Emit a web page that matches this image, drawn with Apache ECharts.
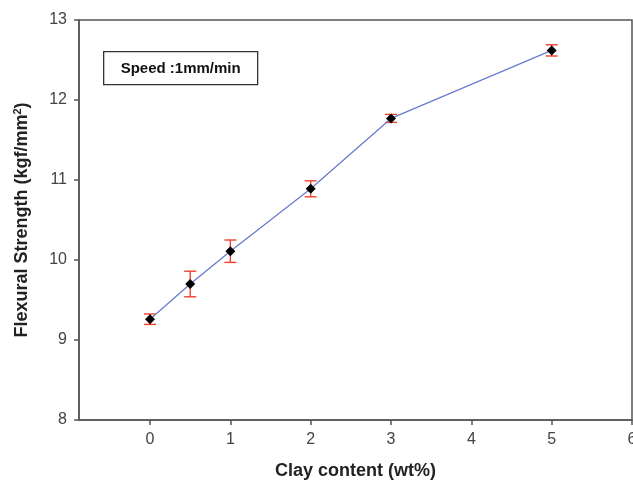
<!DOCTYPE html>
<html>
<head>
<meta charset="utf-8">
<script src="https://cdn.jsdelivr.net/npm/echarts@6/dist/echarts.min.js"></script>
<style>
  html, body { margin: 0; padding: 0; background: #fff; }
  #chart { width: 633px; height: 485px; }
</style>
</head>
<body>
<div id="chart"></div>
<script>
// Clay content (wt%) and measured flexural strength (kgf/mm^2)
const clayContent = [0, 0.5, 1, 2, 3, 5];
const strength = [9.26, 9.70, 10.11, 10.89, 11.77, 12.62];
// Half-width of the error bar for each point
const strengthErr = [0.065, 0.16, 0.14, 0.10, 0.05, 0.07];
const xTicks = [0, 1, 2, 3, 4, 5, 6];
const yTicks = [8, 9, 10, 11, 12, 13];

const points = clayContent.map((x, i) => [x, strength[i]]);
const errData = clayContent.map((x, i) => [x, strength[i] - strengthErr[i], strength[i] + strengthErr[i]]);

const chart = echarts.init(document.getElementById('chart'));
const axisColor = '#555';
const fontFamily = 'Liberation Sans, Arial, sans-serif';
const labelFont = { color: '#444', fontSize: 16, fontFamily };

chart.setOption({
  animation: false,
  grid: {
    left: 79, top: 20, bottom: 65, right: 1,
    outerBoundsMode: 'none', containLabel: false,
    show: true, borderColor: axisColor, borderWidth: 1.5, backgroundColor: 'transparent'
  },
  xAxis: {
    type: 'value', min: -0.884, max: 6,
    name: 'Clay content (wt%)', nameLocation: 'middle', nameGap: 42,
    nameTextStyle: { color: '#222', fontSize: 18, fontWeight: 'bold', fontFamily },
    axisLine: { onZero: false, lineStyle: { color: axisColor, width: 1.5 } },
    axisTick: { length: 5, customValues: xTicks, lineStyle: { color: axisColor, width: 1.5 } },
    axisLabel: Object.assign({ margin: 12, customValues: xTicks }, labelFont),
    splitLine: { show: false }
  },
  yAxis: {
    type: 'value', min: yTicks[0], max: yTicks[yTicks.length - 1], interval: 1,
    name: 'Flexural Strength (kgf/mm{sup|2})', nameLocation: 'middle', nameGap: 47,
    nameTextStyle: {
      color: '#222', fontSize: 18, fontWeight: 'bold', fontFamily,
      rich: { sup: { fontSize: 11, fontWeight: 'bold', fontFamily, color: '#222', padding: [0, 0, 9, 0] } }
    },
    axisLine: { onZero: false, lineStyle: { color: axisColor, width: 1.5 } },
    axisTick: { length: 5, lineStyle: { color: axisColor, width: 1.5 } },
    axisLabel: Object.assign({ margin: 12 }, labelFont),
    splitLine: { show: false }
  },
  graphic: [{
    type: 'group', left: 103, top: 51,
    children: [
      { type: 'rect', shape: { x: 0, y: 0, width: 154, height: 33 },
        style: { fill: '#fff', stroke: '#333', lineWidth: 1.3 } },
      { type: 'text', x: 77, y: 17,
        style: { text: 'Speed :1mm/min', fill: '#111', font: 'bold 15px Liberation Sans, Arial, sans-serif',
                 align: 'center', verticalAlign: 'middle' } }
    ]
  }],
  series: [
    {
      type: 'line', data: points, symbol: 'diamond', symbolSize: 10, z: 3,
      lineStyle: { color: '#6b7bd0', width: 1.3 },
      itemStyle: { color: '#000' }
    },
    {
      type: 'custom', data: errData, z: 2,
      renderItem: (params, api) => {
        const x = api.value(0);
        const lo = api.coord([x, api.value(1)]);
        const hi = api.coord([x, api.value(2)]);
        const cap = 6;
        const style = { stroke: '#f0402c', lineWidth: 1.4 };
        return {
          type: 'group',
          children: [
            { type: 'line', shape: { x1: lo[0], y1: lo[1], x2: hi[0], y2: hi[1] }, style },
            { type: 'line', shape: { x1: lo[0] - cap, y1: lo[1], x2: lo[0] + cap, y2: lo[1] }, style },
            { type: 'line', shape: { x1: hi[0] - cap, y1: hi[1], x2: hi[0] + cap, y2: hi[1] }, style }
          ]
        };
      }
    }
  ]
});
</script>
</body>
</html>
